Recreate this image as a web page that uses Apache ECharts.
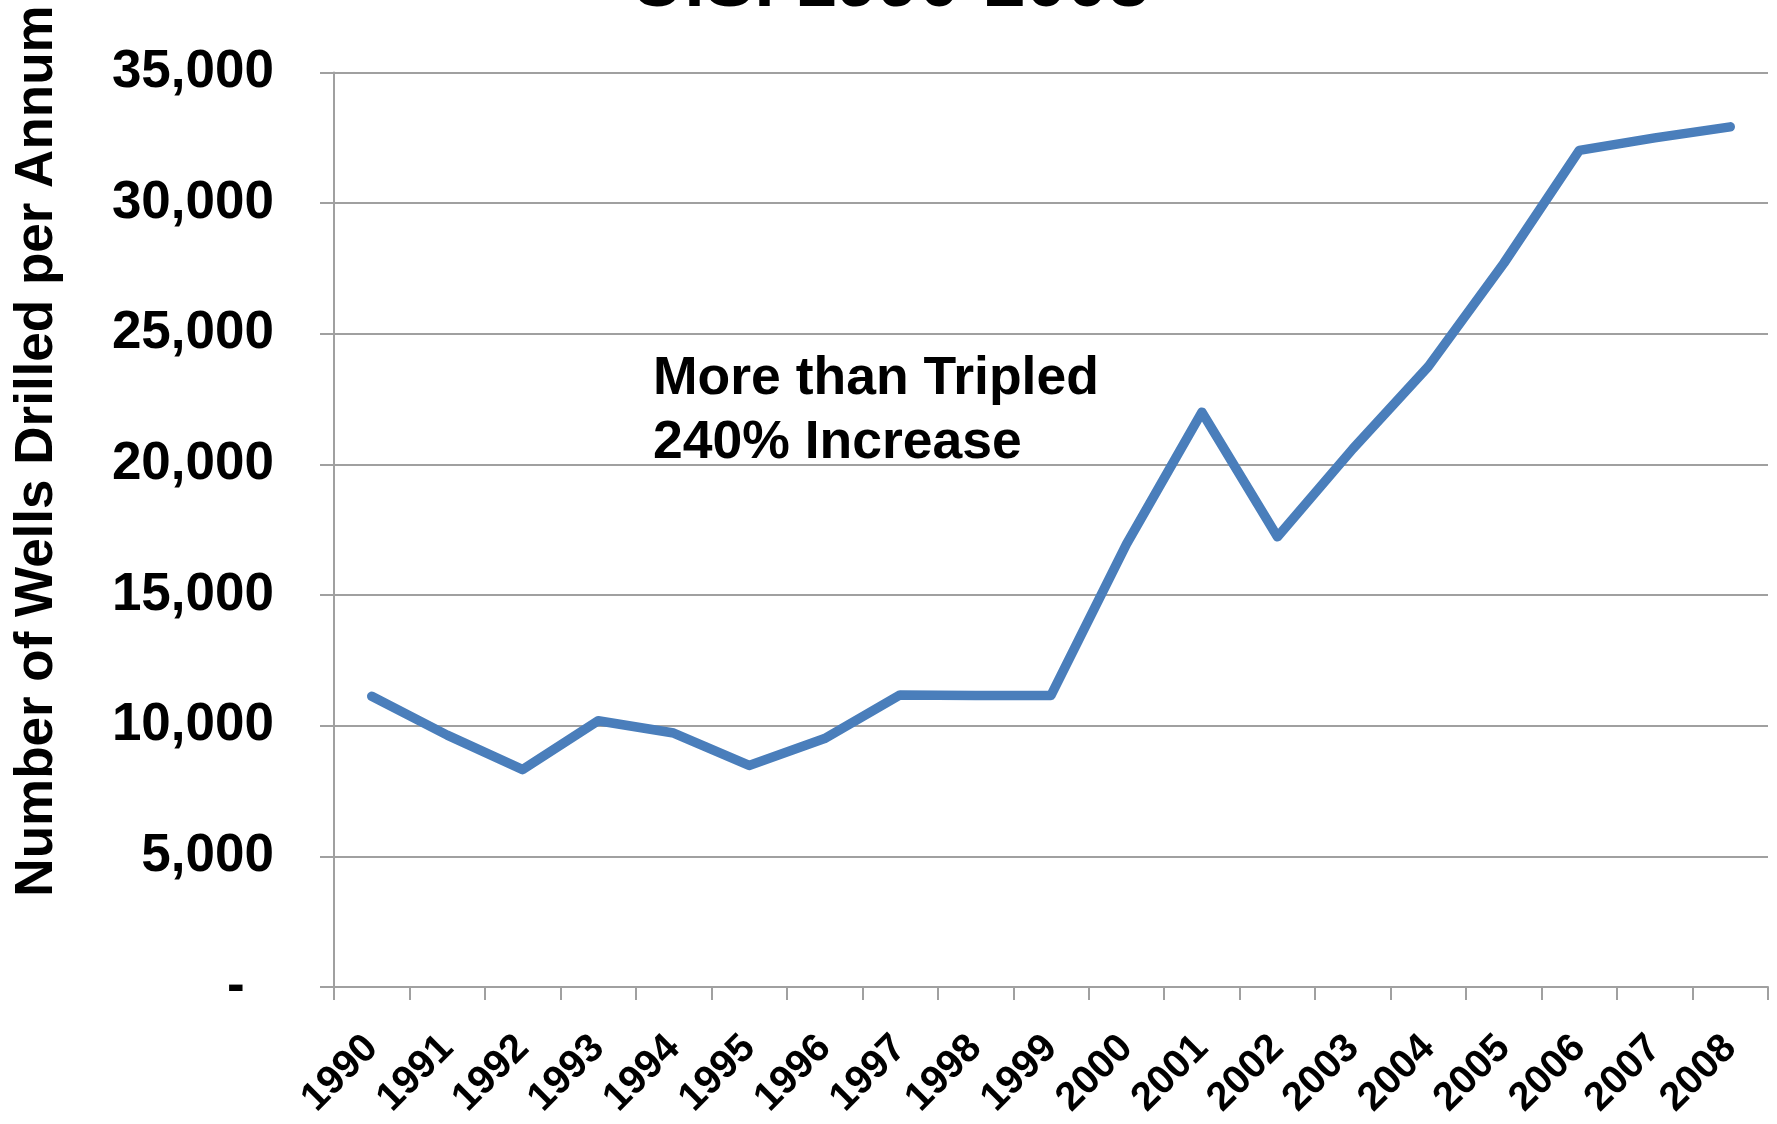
<!DOCTYPE html>
<html>
<head>
<meta charset="utf-8">
<script src="https://cdn.jsdelivr.net/npm/echarts@6/dist/echarts.min.js"></script>
<style>
html,body{margin:0;padding:0;background:#fff;}
#chart{width:1777px;height:1124px;}
</style>
</head>
<body>
<div id="chart"></div>
<script>
const years = ['1990','1991','1992','1993','1994','1995','1996','1997','1998','1999','2000','2001','2002','2003','2004','2005','2006','2007','2008'];
const wellsDrilled = [11130, 9640, 8320, 10190, 9720, 8480, 9510, 11180, 11160, 11160, 16950, 22000, 17230, 20600, 23750, 27700, 32020, 32500, 32920];
const yTicks = [0, 5000, 10000, 15000, 20000, 25000, 30000, 35000];
const titleText = 'U.S. 1990-2008';
const yAxisTitle = 'Number of Wells Drilled per Annum';
const noteLines = ['More than Tripled', '240% Increase'];

const FONT = '"Liberation Sans", Arial, Helvetica, sans-serif';
const chart = echarts.init(document.getElementById('chart'), null, {renderer: 'canvas'});

const option = {
  backgroundColor: '#ffffff',
  animation: false,
  grid: {left: 334, right: 9, top: 72.5, bottom: 137, containLabel: false},
  xAxis: {
    type: 'category',
    data: years,
    boundaryGap: true,
    axisLine: {show: true, lineStyle: {color: '#a0a0a0', width: 2}},
    axisTick: {show: true, alignWithLabel: false, interval: 0, length: 13, lineStyle: {color: '#a0a0a0', width: 2}},
    axisLabel: {interval: 0, rotate: 45, margin: 55, color: '#000', fontFamily: FONT, fontWeight: 'bold', fontSize: 40},
    splitLine: {show: false}
  },
  yAxis: {
    type: 'value',
    min: yTicks[0],
    max: yTicks[yTicks.length - 1],
    interval: yTicks[1] - yTicks[0],
    axisLine: {show: true, lineStyle: {color: '#a0a0a0', width: 2}},
    axisTick: {show: true, length: 14, lineStyle: {color: '#a0a0a0', width: 2}},
    axisLabel: {
      margin: 60, color: '#000', fontFamily: FONT, fontWeight: 'bold', fontSize: 53,
      formatter: function (v) { return v === 0 ? '-  ' : v.toLocaleString('en-US'); }
    },
    splitLine: {show: true, lineStyle: {color: '#a0a0a0', width: 2}}
  },
  series: [{
    type: 'line',
    data: wellsDrilled,
    symbol: 'none',
    lineStyle: {color: '#4a7ebb', width: 9.5, cap: 'round', join: 'round'},
    itemStyle: {color: '#4a7ebb'}
  }],
  graphic: [
    {type: 'text', x: 890, y: -14.5, silent: true,
     style: {text: titleText, font: 'bold 74px ' + FONT, fill: '#000', align: 'center', verticalAlign: 'middle'}},
    {type: 'text', x: 37, y: 451, rotation: Math.PI / 2, silent: true,
     style: {text: yAxisTitle, font: 'bold 53px ' + FONT, fill: '#000', align: 'center', verticalAlign: 'middle'}},
    {type: 'text', x: 653, y: 379, silent: true,
     style: {text: noteLines[0], font: 'bold 53.5px ' + FONT, fill: '#000', align: 'left', verticalAlign: 'middle'}},
    {type: 'text', x: 653, y: 443, silent: true,
     style: {text: noteLines[1], font: 'bold 53.5px ' + FONT, fill: '#000', align: 'left', verticalAlign: 'middle'}}
  ]
};
chart.setOption(option);
</script>
</body>
</html>
